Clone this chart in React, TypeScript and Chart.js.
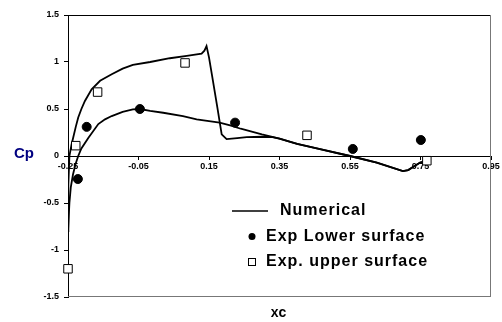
import React, { useEffect, useRef } from 'react';
import { Chart, registerables } from 'chart.js';

Chart.register(...registerables);

// Axis ticks
const xTicks = [-0.25, -0.05, 0.15, 0.35, 0.55, 0.75, 0.95];
const xTickLabels = ['-0.25', '-0.05', '0.15', '0.35', '0.55', '0.75', '0.95'];
const yTicks = [-1.5, -1, -0.5, 0, 0.5, 1, 1.5];
const yTickLabels = ['-1.5', '-1', '-0.5', '0', '0.5', '1', '1.5'];

// Numerical Cp, upper branch (with shock near xc = 0.15)
const numUpperX = [
  -0.25, -0.249, -0.246, -0.24, -0.235, -0.228, -0.221, -0.212, -0.202, -0.183,
  -0.159, -0.126, -0.095, -0.066, -0.017, 0.039, 0.087, 0.129, 0.137, 0.143,
  0.15, 0.158, 0.174, 0.186, 0.2, 0.23, 0.257, 0.3, 0.33, 0.35,
  0.4, 0.465, 0.55, 0.626, 0.7, 0.715, 0.749, 0.777,
];
const numUpperY = [
  -0.8, -0.3, 0.0, 0.12, 0.2, 0.31, 0.41, 0.5, 0.585, 0.71,
  0.8, 0.87, 0.93, 0.97, 1.0, 1.04, 1.065, 1.09, 1.12, 1.17,
  1.05, 0.87, 0.51, 0.23, 0.18, 0.19, 0.2, 0.205, 0.2, 0.185,
  0.13, 0.074, 0.0, -0.07, -0.16, -0.15, -0.07, -0.043,
];

// Numerical Cp, lower branch
const numLowerX = [
  -0.25, -0.246, -0.242, -0.236, -0.229, -0.221, -0.212, -0.192, -0.164, -0.145,
  -0.126, -0.095, -0.066, -0.046, -0.017, 0.02, 0.076, 0.115, 0.18, 0.21,
  0.24, 0.3, 0.35, 0.4, 0.465, 0.55, 0.626, 0.7, 0.715, 0.749, 0.777,
];
const numLowerY = [
  -0.8, -0.5, -0.33, -0.2, -0.09, 0.0, 0.08, 0.195, 0.34, 0.39,
  0.425, 0.47, 0.495, 0.5, 0.48, 0.46, 0.425, 0.39, 0.355, 0.325,
  0.29, 0.23, 0.185, 0.13, 0.074, 0.0, -0.07, -0.16, -0.15, -0.07, -0.043,
];

// Experimental points
const expLowerX = [-0.222, -0.197, -0.046, 0.224, 0.558, 0.751];
const expLowerY = [-0.245, 0.31, 0.5, 0.355, 0.075, 0.17];
const expUpperX = [-0.25, -0.228, -0.166, 0.082, 0.428, 0.768];
const expUpperY = [-1.2, 0.11, 0.68, 0.99, 0.22, -0.05];

const zip = (xs: number[], ys: number[]) => xs.map((x, i) => ({ x, y: ys[i] }));

const TICK_FONT = { family: 'Arial, "Liberation Sans", sans-serif', size: 9, weight: 'bold' as const };

// Plot frame (top, right, bottom edges)
const framePlugin = {
  id: 'frame',
  beforeDatasetsDraw(chart: any) {
    const { ctx, chartArea: a } = chart;
    ctx.save();
    ctx.lineWidth = 1;
    ctx.strokeStyle = '#000';
    ctx.beginPath();
    ctx.moveTo(a.left, a.top + 0.5);
    ctx.lineTo(a.right, a.top + 0.5);
    ctx.stroke();
    ctx.strokeStyle = '#777';
    ctx.beginPath();
    ctx.moveTo(a.right - 0.5, a.top);
    ctx.lineTo(a.right - 0.5, a.bottom);
    ctx.moveTo(a.left, a.bottom - 0.5);
    ctx.lineTo(a.right, a.bottom - 0.5);
    ctx.stroke();
    ctx.restore();
  },
};

// Axis names: horizontal "Cp" on the left, "xc" below
const axisNamesPlugin = {
  id: 'axisNames',
  afterDraw(chart: any, _args: any, opts: any) {
    const { ctx, chartArea: a } = chart;
    ctx.save();
    ctx.textAlign = 'center';
    ctx.textBaseline = 'middle';
    ctx.font = 'bold 15px Arial, "Liberation Sans", sans-serif';
    ctx.fillStyle = '#000080';
    ctx.fillText(opts.yName, 24, chart.scales.y.getPixelForValue(0) - 2);
    ctx.font = 'bold 14px Arial, "Liberation Sans", sans-serif';
    ctx.fillStyle = '#000';
    ctx.fillText(opts.xName, (a.left + a.right) / 2 - 1, a.bottom + 16);
    ctx.restore();
  },
};

// Legend drawn inside the plot area
const innerLegendPlugin = {
  id: 'innerLegend',
  afterDraw(chart: any, _args: any, opts: any) {
    const { ctx } = chart;
    const items = chart.data.datasets.filter((d: any) => !d.noLegend);
    ctx.save();
    ctx.font = 'bold 16px Arial, "Liberation Sans", sans-serif';
    (ctx as any).letterSpacing = '1px';
    ctx.textBaseline = 'middle';
    ctx.textAlign = 'left';
    ctx.fillStyle = '#000';
    items.forEach((d: any, i: number) => {
      const y = opts.y + i * opts.gap;
      if (d.showLine) {
        ctx.strokeStyle = d.borderColor;
        ctx.lineWidth = 1.5;
        ctx.beginPath();
        ctx.moveTo(opts.x, y);
        ctx.lineTo(opts.x + 36, y);
        ctx.stroke();
        ctx.fillText(d.label, opts.x + 48, y);
      } else {
        const cx = opts.x + 20;
        ctx.lineWidth = 1;
        ctx.strokeStyle = '#000';
        if (d.pointStyle === 'rect') {
          ctx.fillStyle = '#fff';
          ctx.fillRect(cx - 3.5, y - 3.5, 7, 7);
          ctx.strokeRect(cx - 3.5, y - 3.5, 7, 7);
        } else {
          ctx.fillStyle = '#000';
          ctx.beginPath();
          ctx.arc(cx, y, 3.5, 0, Math.PI * 2);
          ctx.fill();
        }
        ctx.fillStyle = '#000';
        ctx.fillText(d.label, opts.x + 34, y);
      }
    });
    ctx.restore();
  },
};

export default function App() {
  const ref = useRef<HTMLCanvasElement>(null);

  useEffect(() => {
    if (!ref.current) return;
    const chart = new Chart(ref.current, {
      type: 'scatter',
      data: {
        datasets: [
          {
            label: 'Numerical',
            data: zip(numUpperX, numUpperY),
            showLine: true,
            borderColor: '#000',
            borderWidth: 1.8,
            pointRadius: 0,
            tension: 0,
            order: 2,
          },
          {
            label: 'Exp Lower surface',
            data: zip(expLowerX, expLowerY),
            showLine: false,
            pointStyle: 'circle',
            pointRadius: 4.5,
            backgroundColor: '#000',
            borderColor: '#000',
            borderWidth: 1,
            clip: false,
            order: 1,
          },
          {
            label: 'Exp. upper surface',
            data: zip(expUpperX, expUpperY),
            showLine: false,
            pointStyle: 'rect',
            pointRadius: 6,
            backgroundColor: '#fff',
            borderColor: '#000',
            borderWidth: 1,
            clip: false,
            order: 1,
          },
          {
            label: 'Numerical (lower)',
            noLegend: true,
            data: zip(numLowerX, numLowerY),
            showLine: true,
            borderColor: '#000',
            borderWidth: 1.8,
            pointRadius: 0,
            tension: 0,
            order: 2,
          } as any,
        ],
      },
      options: {
        animation: false,
        responsive: false,
        devicePixelRatio: 1,
        layout: { padding: { top: 15, right: 11, bottom: 25, left: 0 } },
        plugins: {
          legend: { display: false },
          tooltip: { enabled: false },
          innerLegend: { x: 232, y: 211, gap: 25.5 },
          axisNames: { xName: 'xc', yName: 'Cp' },
        } as any,
        scales: {
          x: {
            type: 'linear',
            min: -0.25,
            max: 0.95,
            position: { y: 0 } as any,
            afterBuildTicks: (s: any) => {
              s.ticks = xTicks.map((v) => ({ value: v }));
            },
            grid: { drawOnChartArea: false, drawTicks: true, tickLength: 3, color: '#000' },
            border: { display: true, color: '#000', width: 1 },
            ticks: {
              autoSkip: false,
              maxRotation: 0,
              padding: 2,
              color: '#000',
              font: TICK_FONT,
              callback: (_v: any, i: number) => xTickLabels[i],
            },
          },
          y: {
            type: 'linear',
            min: -1.5,
            max: 1.5,
            position: 'left',
            afterBuildTicks: (s: any) => {
              s.ticks = yTicks.map((v) => ({ value: v }));
            },
            afterFit: (s: any) => {
              s.width = 68;
            },
            grid: { drawOnChartArea: false, drawTicks: true, tickLength: 4, color: '#000' },
            border: { display: true, color: '#000', width: 1 },
            ticks: {
              autoSkip: false,
              padding: 5,
              color: '#000',
              font: TICK_FONT,
              callback: (_v: any, i: number) => yTickLabels[i],
            },
          },
        },
      },
      plugins: [framePlugin, axisNamesPlugin, innerLegendPlugin],
    });
    return () => chart.destroy();
  }, []);

  return (
    <div style={{ position: 'fixed', left: 0, top: 0, width: 502, height: 322, background: '#fff' }}>
      <canvas ref={ref} width={502} height={322} />
    </div>
  );
}
